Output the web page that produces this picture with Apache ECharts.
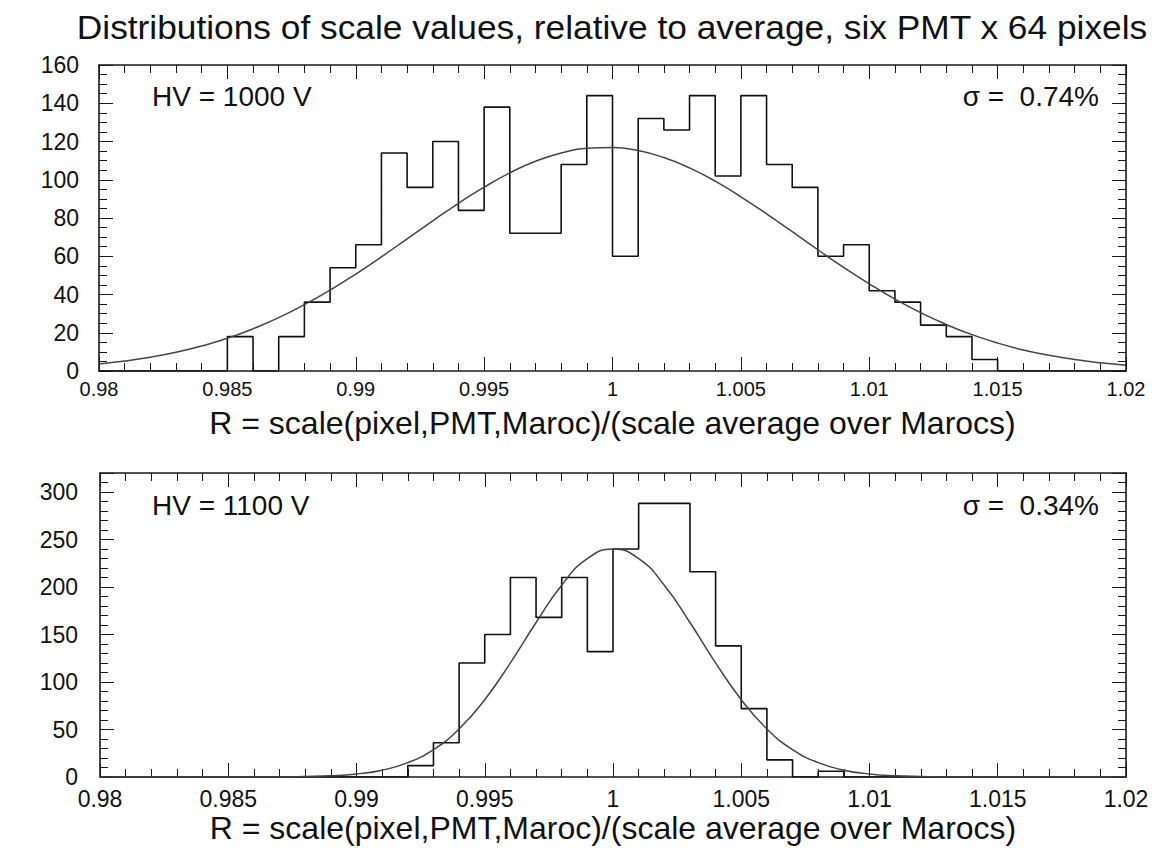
<!DOCTYPE html>
<html><head><meta charset="utf-8">
<script src="https://cdn.jsdelivr.net/npm/echarts@6/dist/echarts.min.js"></script>
<style>html,body{margin:0;padding:0;background:#fff}#c{width:1172px;height:860px}</style>
</head><body><div id="c"></div>
<script>
// ---- data ----
const xMin = 0.98, xMax = 1.02, binW = 0.001;
// counts per bin, bins start at 0.980, 0.981, ... 1.019
const hist1000 = [0,0,0,0,0,18,0,18,36,54, 66,114,96,120,84,138,72,72,108,144,
                  60,132,126,144,102,144,108,96,60,66, 42,36,24,18,6,0,0,0,0,0];
const hist1100 = [0,0,0,0,0,0,0,0,0,0, 0,0,12,36,120,150,210,168,210,132,
                  240,288,288,216,138,72,18,0,6,0, 0,0,0,0,0,0,0,0,0,0];
// fitted curve read at R = 0.980, 0.981, ... 1.020
const fit1000 = [3.7,5.2,7.2,9.8,13.1,17.1,22.1,27.9,34.7,42.3,50.7,59.7,69.1,78.5,87.7,96.1,103.6,109.7,114.0,116.5,
                 116.9,115.3,111.6,106.2,99.3,91.1,82.2,72.9,63.4,54.2,45.6,37.6,30.5,24.3,19.0,14.6,11.0,8.2,6.0,4.3,3.0];
const fit1100 = [0,0,0,0,0,0,0,0,0.5,1.3,3.2,7.2,15.1,28.8,50.6,81.4,120.1,162.6,201.9,229.9,
                 240,229.9,201.9,162.6,120.1,81.4,50.6,28.8,15.1,7.2,3.2,1.3,0.5,0,0,0,0,0,0,0,0];
const titleText = 'Distributions of scale values, relative to average, six PMT x 64 pixels';
const xName = 'R = scale(pixel,PMT,Maroc)/(scale average over Marocs)';
const hvLabels = ['HV = 1000 V', 'HV = 1100 V'];
const sigmaLabels = ['\u03c3 =\u00a0 0.74%', '\u03c3 =\u00a0 0.34%'];
const yMax = [160, 320];
const yStep = [20, 50];
const yMinorSplit = [4, 5];

// ---- build ----
const FONT = 'Liberation Sans, Arial, sans-serif';
const edge = i => +(xMin + i * binW).toFixed(4);
function stepData(h) {
  const d = h.map((v, i) => [edge(i), v]);
  d.push([xMax, 0]);
  return d;
}
function curveData(f) { return f.map((v, i) => [edge(i), v]); }
const fmtX = v => String(parseFloat((+v).toFixed(3)));

const lineC = '#1a1a1a';
function xAxisPair(gi, fs, margin, nameGap, nameFs) {
  const base = {
    gridIndex: gi, type: 'value', min: xMin, max: xMax, interval: 0.005,
    axisLine: {show: true, onZero: false, lineStyle: {color: lineC, width: 1.6}},
    axisTick: {show: true, inside: true, length: 14, lineStyle: {color: lineC, width: 1}},
    minorTick: {show: true, splitNumber: 5, length: 8, lineStyle: {color: lineC, width: 1}},
    splitLine: {show: false}
  };
  return [
    Object.assign({}, base, {position: 'bottom',
      axisLabel: {show: true, margin: margin, fontSize: fs, color: '#111', fontFamily: FONT, formatter: fmtX},
      name: xName, nameLocation: 'middle', nameGap: nameGap,
      nameTextStyle: {fontSize: nameFs, color: '#111', fontFamily: FONT}}),
    Object.assign({}, base, {position: 'top', axisLabel: {show: false}})
  ];
}
function yAxisPair(gi, fs, margin) {
  const base = {
    gridIndex: gi, type: 'value', min: 0, max: yMax[gi], interval: yStep[gi],
    axisLine: {show: true, onZero: false, lineStyle: {color: lineC, width: 1.6}},
    axisTick: {show: true, inside: true, length: 14, lineStyle: {color: lineC, width: 1}},
    minorTick: {show: true, splitNumber: yMinorSplit[gi], length: 8, lineStyle: {color: lineC, width: 1}},
    splitLine: {show: false}
  };
  return [
    Object.assign({}, base, {position: 'left',
      axisLabel: {show: true, margin: margin, fontSize: fs, color: '#111', fontFamily: FONT,
        formatter: v => (v % yStep[gi] === 0 ? String(v) : ''), showMaxLabel: yMax[gi] % yStep[gi] === 0}}),
    Object.assign({}, base, {position: 'right', axisLabel: {show: false}})
  ];
}

const grids = [
  {left: 99, top: 65, width: 1027, height: 306},
  {left: 100, top: 473, width: 1026, height: 304}
];
const xAxes = [...xAxisPair(0, 20, 8, 36, 32), ...xAxisPair(1, 23, 10, 35, 32)];
const yAxes = [...yAxisPair(0, 23, 20), ...yAxisPair(1, 23, 22)];

function histSeries(h, ai) {
  return {type: 'line', xAxisIndex: ai * 2, yAxisIndex: ai * 2, data: stepData(h), step: 'end',
    symbol: 'none', lineStyle: {color: '#111', width: 1.6}, silent: true, animation: false, z: 3};
}
function fitSeries(f, ai) {
  return {type: 'line', xAxisIndex: ai * 2, yAxisIndex: ai * 2, data: curveData(f), smooth: 0.5,
    symbol: 'none', lineStyle: {color: '#444', width: 1.5}, silent: true, animation: false, z: 4};
}

const annot = [];
annot.push({type: 'text', x: 612, y: 27, scaleX: 1.07,
  style: {text: titleText, fontSize: 33, fontFamily: FONT, fill: '#111', textAlign: 'center', textVerticalAlign: 'middle'}});
[[96, 0], [505, 1]].forEach(([cy, k]) => {
  annot.push({type: 'text', x: 152, y: cy, style: {text: hvLabels[k], fontSize: 28, fontFamily: FONT, fill: '#111', textAlign: 'left', textVerticalAlign: 'middle'}});
  annot.push({type: 'text', x: 1099, y: cy, style: {text: sigmaLabels[k], fontSize: 28, fontFamily: FONT, fill: '#111', textAlign: 'right', textVerticalAlign: 'middle'}});
});

const chart = echarts.init(document.getElementById('c'), null, {renderer: 'svg'});
chart.setOption({
  backgroundColor: '#fff',
  animation: false,
  grid: grids,
  xAxis: xAxes,
  yAxis: yAxes,
  series: [histSeries(hist1000, 0), fitSeries(fit1000, 0), histSeries(hist1100, 1), fitSeries(fit1100, 1)],
  graphic: annot
});
</script></body></html>
